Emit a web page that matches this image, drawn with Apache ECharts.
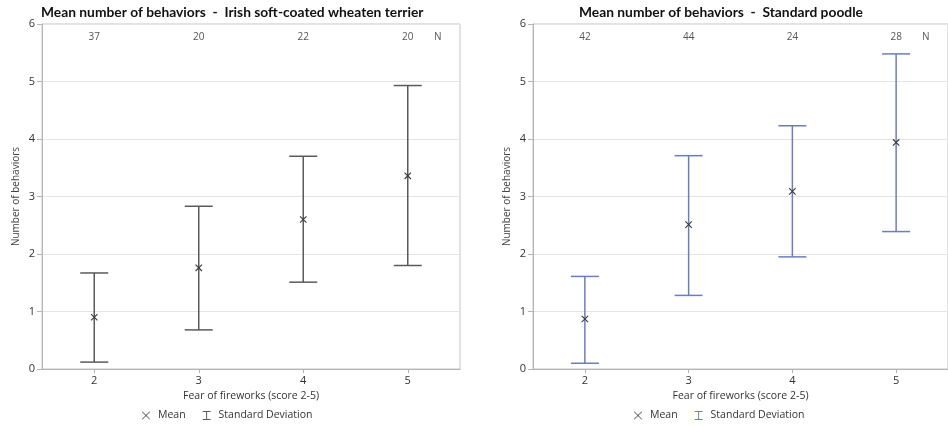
<!DOCTYPE html>
<html>
<head>
<meta charset="utf-8">
<script src="https://cdn.jsdelivr.net/npm/echarts@6/dist/echarts.min.js"></script>
<style>
html,body{margin:0;padding:0;background:#fff;}
#c{width:948px;height:426px;}
</style>
</head>
<body>
<div id="c"></div>
<script>
const categories = ['2', '3', '4', '5'];
const yTicks = [0, 1, 2, 3, 4, 5, 6];

const terrierMean  = [0.90, 1.76, 2.60, 3.36];
const terrierLower = [0.12, 0.68, 1.51, 1.80];
const terrierUpper = [1.67, 2.83, 3.70, 4.93];
const terrierN     = ['37', '20', '22', '20'];

const poodleMean  = [0.87, 2.51, 3.09, 3.94];
const poodleLower = [0.10, 1.28, 1.95, 2.39];
const poodleUpper = [1.61, 3.71, 4.23, 5.48];
const poodleN     = ['42', '44', '24', '28'];

const titles = ['Mean number of behaviors  -  Irish soft-coated wheaten terrier',
                'Mean number of behaviors  -  Standard poodle'];
const xName = 'Fear of fireworks (score 2-5)';
const yName = 'Number of behaviors';

const FONT = 'Open Sans';
const TFONT = 'Lato';
const terrierColor = '#5a5a5a';
const poodleColor = '#6b7dbd';
const meanColor = '#3a3a3a';

const X_ICON = 'path://M0,0.6L0.6,0L5,4.4L9.4,0L10,0.6L5.6,5L10,9.4L9.4,10L5,5.6L0.6,10L0,9.4L4.4,5Z';
const I_ICON = 'path://M0,0H10V1.2H5.6V9.8H10V11H0V9.8H4.4V1.2H0Z';

function errRender(color) {
  return function (params, api) {
    const lo = api.coord([api.value(0), api.value(1)]);
    const hi = api.coord([api.value(0), api.value(2)]);
    const x = lo[0], w = 14;
    const st = {stroke: color, lineWidth: 1.5};
    return {type: 'group', children: [
      {type: 'line', shape: {x1: x, y1: hi[1], x2: x, y2: lo[1]}, style: st},
      {type: 'line', shape: {x1: x - w, y1: hi[1], x2: x + w, y2: hi[1]}, style: st},
      {type: 'line', shape: {x1: x - w, y1: lo[1], x2: x + w, y2: lo[1]}, style: st}
    ]};
  };
}
function meanRender(params, api) {
  const p = api.coord([api.value(0), api.value(1)]);
  const s = 3.2;
  const st = {stroke: meanColor, lineWidth: 1.1};
  return {type: 'group', children: [
    {type: 'line', shape: {x1: p[0] - s, y1: p[1] - s, x2: p[0] + s, y2: p[1] + s}, style: st},
    {type: 'line', shape: {x1: p[0] - s, y1: p[1] + s, x2: p[0] + s, y2: p[1] - s}, style: st}
  ]};
}

const grids = [
  {left: 42, top: 24, width: 418, height: 345},
  {left: 533, top: 24, width: 417, height: 345}
];

function bottomAxis(i) {
  return {
    type: 'category', gridIndex: i, data: categories, position: 'bottom',
    name: xName, nameLocation: 'middle', nameGap: 22,
    nameTextStyle: {fontFamily: FONT, fontSize: 10.5, color: '#333'},
    axisLine: {show: true, lineStyle: {color: '#b5b5b5'}},
    axisTick: {show: true, alignWithLabel: true, length: 4, lineStyle: {color: '#b5b5b5'}},
    axisLabel: {fontFamily: FONT, fontSize: 11, color: '#333', margin: 6},
    splitLine: {show: false}
  };
}
function topAxis(i, nData) {
  return {
    type: 'category', gridIndex: i, data: nData, position: 'top',
    axisLine: {show: false}, axisTick: {show: false},
    axisLabel: {inside: true, fontFamily: FONT, fontSize: 10, color: '#555', margin: 8},
    splitLine: {show: false}
  };
}
function yAxis(i) {
  return {
    type: 'value', gridIndex: i, min: yTicks[0], max: yTicks[yTicks.length - 1], interval: 1,
    name: yName, nameLocation: 'middle', nameGap: 21,
    nameTextStyle: {fontFamily: FONT, fontSize: 10, color: '#444'},
    axisLine: {show: true, lineStyle: {color: '#b5b5b5'}},
    axisTick: {show: true, length: 5, lineStyle: {color: '#b5b5b5'}},
    axisLabel: {fontFamily: FONT, fontSize: 11, color: '#333', margin: 7},
    splitLine: {show: true, lineStyle: {color: '#e4e4e4', width: 1.2}}
  };
}

function legendFor(left, sdColor) {
  return {
    left: left, top: 410, padding: 0, itemGap: 17, itemWidth: 8, itemHeight: 10,
    textStyle: {fontFamily: FONT, fontSize: 10.5, color: '#333', padding: [0, 0, 0, 3]},
    data: [{name: 'Mean', icon: X_ICON, itemStyle: {color: meanColor}},
           {name: 'Standard Deviation', icon: I_ICON, itemStyle: {color: sdColor}}]
  };
}

const chart = echarts.init(document.getElementById('c'), null, {renderer: 'canvas'});
chart.setOption({
  animation: false,
  backgroundColor: '#fff',
  title: [
    {text: titles[0], left: 41, top: 6, padding: 0, textStyle: {fontFamily: TFONT, fontSize: 13.8, fontWeight: 'bold', color: '#111'}},
    {text: titles[1], left: 579, top: 6, padding: 0, textStyle: {fontFamily: TFONT, fontSize: 13.8, fontWeight: 'bold', color: '#111'}}
  ],
  grid: grids.map(g => Object.assign({show: true, borderColor: '#c4c4c4', borderWidth: 1, backgroundColor: 'transparent'}, g)),
  xAxis: [bottomAxis(0), bottomAxis(1), topAxis(0, terrierN), topAxis(1, poodleN)],
  yAxis: [yAxis(0), yAxis(1)],
  legend: [legendFor(142, terrierColor), legendFor(634, poodleColor)],
  graphic: [
    {type: 'text', left: 434, top: 32, style: {text: 'N', fontFamily: FONT, fontSize: 10, fill: '#555'}},
    {type: 'text', left: 922, top: 32, style: {text: 'N', fontFamily: FONT, fontSize: 10, fill: '#555'}}
  ],
  series: [
    {type: 'custom', name: 'Standard Deviation', xAxisIndex: 0, yAxisIndex: 0,
     itemStyle: {color: terrierColor}, renderItem: errRender(terrierColor),
     data: categories.map((c, i) => [i, terrierLower[i], terrierUpper[i]]), encode: {x: 0, y: [1, 2]}},
    {type: 'custom', name: 'Mean', xAxisIndex: 0, yAxisIndex: 0,
     itemStyle: {color: meanColor}, renderItem: meanRender,
     data: categories.map((c, i) => [i, terrierMean[i]]), encode: {x: 0, y: 1}},
    {type: 'custom', name: 'Standard Deviation', xAxisIndex: 1, yAxisIndex: 1,
     itemStyle: {color: poodleColor}, renderItem: errRender(poodleColor),
     data: categories.map((c, i) => [i, poodleLower[i], poodleUpper[i]]), encode: {x: 0, y: [1, 2]}},
    {type: 'custom', name: 'Mean', xAxisIndex: 1, yAxisIndex: 1,
     itemStyle: {color: meanColor}, renderItem: meanRender,
     data: categories.map((c, i) => [i, poodleMean[i]]), encode: {x: 0, y: 1}}
  ]
});
</script>
</body>
</html>
